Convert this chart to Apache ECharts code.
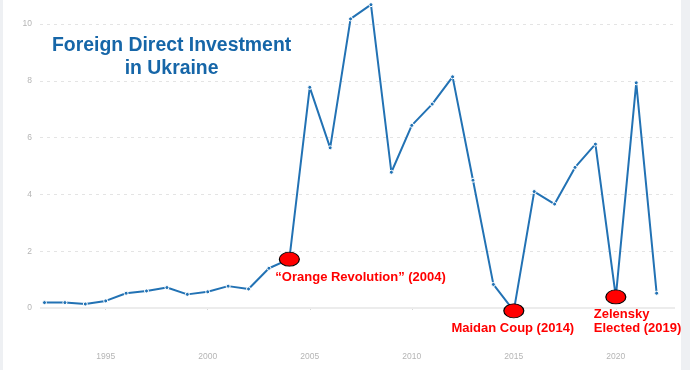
<!DOCTYPE html>
<html><head><meta charset="utf-8">
<script src="https://cdn.jsdelivr.net/npm/echarts@6/dist/echarts.min.js"></script>
<style>html,body{margin:0;padding:0;background:#fff}#c{width:690px;height:370px}</style>
</head><body><div id="c"></div>
<script>
const years = [1992,1993,1994,1995,1996,1997,1998,1999,2000,2001,2002,2003,2004,2005,2006,2007,2008,2009,2010,2011,2012,2013,2014,2015,2016,2017,2018,2019,2020,2021,2022];
const fdi = [0.19,0.19,0.14,0.25,0.52,0.6,0.72,0.48,0.57,0.77,0.67,1.4,1.72,7.77,5.64,10.18,10.68,4.78,6.43,7.18,8.14,4.5,0.83,-0.1,4.1,3.66,4.95,5.77,0.39,7.93,0.52];
const xTickLabels = [1995,2000,2005,2010,2015,2020];
const yTickLabels = [0,2,4,6,8,10];
const eventYears = [2004,2015,2020];
const eventValues = [1.72,-0.1,0.39];
const eventLabels = ['“Orange Revolution” (2004)','Maidan Coup (2014)','Zelensky\nElected (2019)'];
const titleText = 'Foreign Direct Investment\nin Ukraine';

const labelPos = [
  {position:'bottom', offset:[-14,2], align:'left'},
  {position:'bottom', offset:[-1,1], align:'center'},
  {position:'bottom', offset:[-22,1], align:'left'}
];
const chart = echarts.init(document.getElementById('c'), null, {renderer:'canvas'});
chart.setOption({
  animation:false,
  graphic:[
    {type:'rect', shape:{x:0,y:0,width:3,height:370}, style:{fill:'#eef0f3'}, silent:true},
    {type:'rect', shape:{x:681,y:0,width:9,height:370}, style:{fill:'#eef0f3'}, silent:true},
    {type:'text', left:52, top:34, style:{text:titleText, font:'bold 19.4px "Liberation Sans", Arial, sans-serif', fill:'#1666a8', textAlign:'center', lineHeight:23, x:119}}
  ],
  grid:{left:40, right:15, top:24, bottom:62},
  xAxis:{type:'value', min:1991.78, max:2022.9, offset:38,
    axisLine:{show:false},
    axisTick:{show:true, customValues:xTickLabels, length:2, lineStyle:{color:'#d8d8d8'}},
    axisLabel:{customValues:xTickLabels, formatter:v=>String(v), color:'#b5b5b5', fontSize:8.5, fontFamily:'"Liberation Sans", Arial, sans-serif', margin:6},
    splitLine:{show:false}},
  yAxis:{type:'value', min:0, max:10, interval:2,
    axisLine:{show:false}, axisTick:{show:false},
    axisLabel:{color:'#b5b5b5', fontSize:8.5, margin:8, fontFamily:'"Liberation Sans", Arial, sans-serif', formatter:v=>yTickLabels.includes(v)?String(v):''},
    splitLine:{show:true, lineStyle:{color:'#e4e4e4', type:[3,4], width:1}}},
  series:[
    {type:'line', data:years.map((y,i)=>[y,fdi[i]]), clip:false,
     lineStyle:{color:'#2272b4', width:2}, itemStyle:{color:'#2272b4', borderColor:'#ffffff', borderWidth:1},
     symbol:'circle', symbolSize:4, showSymbol:true,
     markLine:{silent:true, symbol:'none', label:{show:false}, lineStyle:{color:'#ececec', type:'solid', width:2}, data:[{yAxis:0}]},
     z:2},
    {type:'scatter', clip:false, z:5,
     data:eventYears.map((y,i)=>({value:[y,eventValues[i]], label:Object.assign({show:true, formatter:eventLabels[i]}, labelPos[i])})),
     symbol:'circle', symbolSize:[20,14],
     itemStyle:{color:'#ff0000', borderColor:'#000', borderWidth:1, opacity:1},
     label:{show:true, color:'#ff0000', fontWeight:'bold', fontSize:13, lineHeight:14, fontFamily:'"Liberation Sans", Arial, sans-serif', distance:2}}
  ]
});
</script></body></html>
